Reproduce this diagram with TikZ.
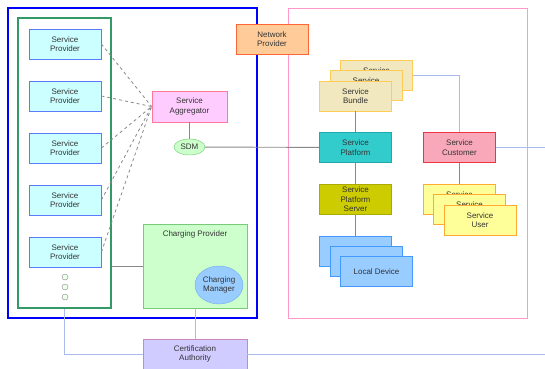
\documentclass[tikz,border=0pt]{standalone}
\usepackage{fontspec}
\setmainfont{Liberation Sans}
\usetikzlibrary{shapes.geometric}
\definecolor{spline}{HTML}{5B7BFF}
\definecolor{spfill}{HTML}{CCFFFF}
\definecolor{aggline}{HTML}{FF7799}
\definecolor{aggfill}{HTML}{FFCCFF}
\definecolor{sdmline}{HTML}{66CC66}
\definecolor{sdmfill}{HTML}{CCFFCC}
\definecolor{npline}{HTML}{FF6633}
\definecolor{npfill}{HTML}{FFCC99}
\definecolor{bundleline}{HTML}{FFCC55}
\definecolor{bundlefill}{HTML}{F2E8C0}
\definecolor{platline}{HTML}{22AAAA}
\definecolor{platfill}{HTML}{33CCCC}
\definecolor{custline}{HTML}{EE3344}
\definecolor{custfill}{HTML}{F8A8B8}
\definecolor{servline}{HTML}{AAAA00}
\definecolor{servfill}{HTML}{CCCC00}
\definecolor{devline}{HTML}{4499FF}
\definecolor{devfill}{HTML}{99CCFF}
\definecolor{userline}{HTML}{FFAA33}
\definecolor{userfill}{HTML}{FFFF99}
\definecolor{chargeline}{HTML}{77CC77}
\definecolor{chargefill}{HTML}{CCFFCC}
\definecolor{mgrline}{HTML}{77AAEE}
\definecolor{caline}{HTML}{CC88BB}
\definecolor{cafill}{HTML}{D0CCFF}
\definecolor{outerblue}{HTML}{0000FF}
\definecolor{groupgreen}{HTML}{339966}
\definecolor{platpink}{HTML}{FF99CC}
\definecolor{linkgray}{HTML}{888888}
\definecolor{certblue}{HTML}{AABBEE}
\definecolor{textgray}{HTML}{333333}
\tikzset{
  box/.style={draw, rectangle, minimum width=72pt, minimum height=30pt,
    align=center, inner sep=0pt, line width=0.8pt, text=textgray},
  provider/.style={box, draw=spline, fill=spfill},
  bundle/.style={box, draw=bundleline, fill=bundlefill},
  device/.style={box, draw=devline, fill=devfill},
  user/.style={box, draw=userline, fill=userfill},
  link/.style={draw=linkgray, line width=0.9pt},
  certlink/.style={draw=certblue, line width=0.9pt},
  dashlink/.style={draw=linkgray, dashed, line width=0.8pt},
}
\begin{document}
\begin{tikzpicture}[x=1pt, y=-1pt, font=\fontsize{8}{9.5}\selectfont]
    \useasboundingbox (0,0) rectangle (545,368);

    % Containers
    \node [draw=outerblue, line width=1.5pt, minimum width=249pt, minimum height=310pt] (operator) at (132.5,163) {};
    \node [draw=platpink, line width=1pt, minimum width=239pt, minimum height=310pt] (home) at (407.5,163) {};
    \node [draw=groupgreen, line width=1.2pt, minimum width=93pt, minimum height=290pt] (spgroup) at (64.5,163) {};

    % Nodes
    \node [provider] (sp1) at (65,44) {Service\\Provider};
    \node [provider, below of=sp1, node distance=52pt] (sp2) {Service\\Provider};
    \node [provider, below of=sp2, node distance=52pt] (sp3) {Service\\Provider};
    \node [provider, below of=sp3, node distance=52pt] (sp4) {Service\\Provider};
    \node [provider, below of=sp4, node distance=52pt] (sp5) {Service\\Provider};
    \node [draw=linkgray, fill=sdmfill!40, circle, minimum size=6pt, inner sep=0pt, below of=sp5, node distance=25pt] (dot1) {};
    \node [draw=linkgray, fill=sdmfill!40, circle, minimum size=6pt, inner sep=0pt, below of=dot1, node distance=10pt] (dot2) {};
    \node [draw=linkgray, fill=sdmfill!40, circle, minimum size=6pt, inner sep=0pt, below of=dot2, node distance=10pt] (dot3) {};

    \node [box, draw=aggline, fill=aggfill, minimum width=75pt, minimum height=31pt] (agg) at (189.5,106.5) {Service\\Aggregator};
    \node [draw=sdmline, fill=sdmfill, ellipse, minimum width=31pt, minimum height=16pt, inner sep=0pt, text=textgray, below of=agg, node distance=40.5pt] (sdm) {SDM};
    \node [box, draw=npline, fill=npfill] (np) at (272,39) {Network\\Provider};

    \node [bundle] (bundle3) at (376.5,75) {Service\\\phantom{Bundle}};
    \node [bundle] (bundle2) at (366,85.5) {Service\\\phantom{Bundle}};
    \node [bundle] (bundle1) at (355.5,96) {Service\\Bundle};
    \node [box, draw=platline, fill=platfill, below of=bundle1, node distance=51.5pt] (platform) {Service\\Platform};
    \node [box, draw=servline, fill=servfill, below of=platform, node distance=52pt] (server) {Service\\Platform\\Server};
    \node [device, below of=server, node distance=52pt] (dev1) {};
    \node [device] (dev2) at (366,261.5) {};
    \node [device] (dev3) at (376.5,271.5) {Local Device};

    \node [box, draw=custline, fill=custfill, right of=platform, node distance=104pt] (customer) {Service\\Customer};
    \node [user, below of=customer, node distance=51.5pt] (user1) {Service\\\phantom{User}};
    \node [user] (user2) at (469.5,209.5) {Service\\\phantom{User}};
    \node [user] (user3) at (480,220) {Service\\User};

    \node [box, draw=chargeline, fill=chargefill, minimum width=104pt, minimum height=84pt,
      label={[anchor=north, yshift=-4pt, text=textgray]north:Charging Provider}] (charging) at (195,266) {};
    \node [draw=mgrline, fill=devfill, ellipse, minimum width=48pt, minimum height=38pt, inner sep=0pt, align=center, text=textgray] (manager) at (219,285) {Charging\\Manager};
    \node [box, draw=caline, fill=cafill, minimum width=104pt] (ca) at (195,354) {Certification\\Authority};

    \coordinate (custout) at (545,147.5);
    \coordinate (caout) at (545,354);

    % Connections
    \foreach \i in {1,...,5}
      \draw [dashlink] (sp\i.east) -- (agg.west);
    \draw [link] (agg) -- (sdm);
    \draw [link] (sdm) -- (platform);
    \draw [link] (bundle1) -- (platform);
    \draw [link] (platform) -- (server);
    \draw [link] (server) -- (dev1);
    \draw [link] (customer) -- (user1);
    \draw [certlink] (bundle3.east) -| (customer.north);
    \draw [certlink] (customer.east) -- (custout);
    \draw [link] (charging.west -| spgroup.east) -- (charging.west);
    \draw [certlink] (spgroup.south) |- (ca.west);
    \draw [certlink] (charging.south) -- (ca.north);
    \draw [certlink] (ca.east) -- (caout);
\end{tikzpicture}
\end{document}
